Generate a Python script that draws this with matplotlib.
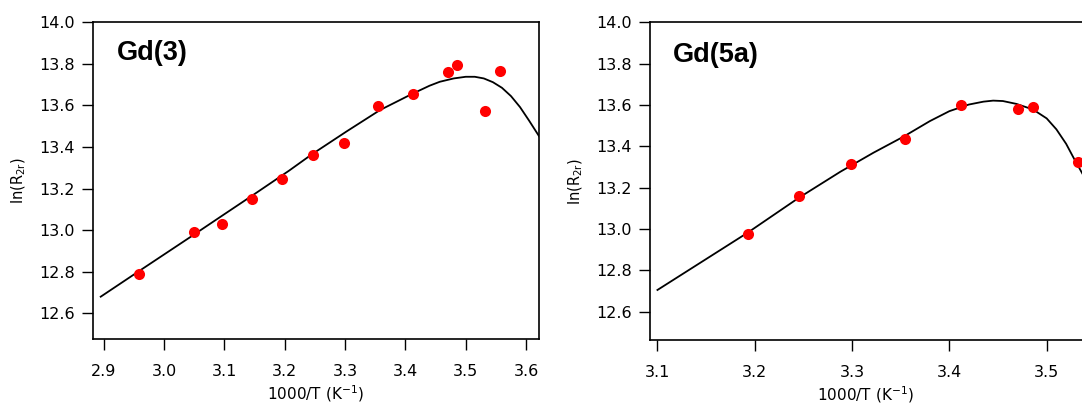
import matplotlib
matplotlib.use("Agg")
import matplotlib.pyplot as plt

# Gd(3) data points
x_gd3 = [2.958, 3.049, 3.096, 3.145, 3.195, 3.247, 3.299, 3.355, 3.412, 3.471, 3.486, 3.532, 3.557]
y_gd3 = [12.789, 12.993, 13.028, 13.150, 13.246, 13.362, 13.421, 13.599, 13.654, 13.759, 13.796, 13.573, 13.766]

# Gd(3) fitted curve
fit_x_gd3 = [2.895, 2.960, 3.042, 3.100, 3.150, 3.207, 3.245, 3.303, 3.358, 3.410,
             3.440, 3.457, 3.480, 3.500, 3.515, 3.530, 3.545, 3.560, 3.575, 3.590,
             3.605, 3.622]
fit_y_gd3 = [12.680, 12.806, 12.964, 13.077, 13.174, 13.286, 13.365, 13.476, 13.578, 13.654,
             13.695, 13.714, 13.730, 13.738, 13.738, 13.730, 13.712, 13.685, 13.645, 13.592,
             13.527, 13.450]

# Gd(5a) data points
x_gd5a = [3.193, 3.245, 3.299, 3.354, 3.412, 3.471, 3.486, 3.532]
y_gd5a = [12.976, 13.160, 13.316, 13.434, 13.601, 13.582, 13.590, 13.326]

# Gd(5a) fitted curve
fit_x_gd5a = [3.100, 3.193, 3.245, 3.288, 3.322, 3.353, 3.380, 3.400, 3.420, 3.435,
              3.445, 3.455, 3.469, 3.486, 3.500, 3.510, 3.520, 3.527, 3.540]
fit_y_gd5a = [12.705, 12.983, 13.150, 13.277, 13.369, 13.447, 13.522, 13.570, 13.602, 13.616,
              13.621, 13.619, 13.605, 13.578, 13.535, 13.482, 13.412, 13.350, 13.240]

plt.rcParams['font.family'] = ['DejaVu Sans']
plt.rcParams['mathtext.default'] = 'regular'
plt.rcParams['xtick.major.size'] = 8
plt.rcParams['ytick.major.size'] = 8
plt.rcParams['xtick.major.width'] = 1.0
plt.rcParams['ytick.major.width'] = 1.0
plt.rcParams['axes.linewidth'] = 1.2

fig = plt.figure(figsize=(10.82, 4.05), dpi=100)
ax1 = fig.add_axes([0.0856, 0.1622, 0.4126, 0.7827])
ax2 = fig.add_axes([0.6006, 0.1605, 0.3994, 0.7845])

panels = [
    (ax1, x_gd3, y_gd3, fit_x_gd3, fit_y_gd3, 'Gd(3)', (2.8816, 3.6215), (12.475, 14.0),
     [2.9, 3.0, 3.1, 3.2, 3.3, 3.4, 3.5, 3.6], 0.881),
    (ax2, x_gd5a, y_gd5a, fit_x_gd5a, fit_y_gd5a, 'Gd(5a)', (3.0922, 3.5363), (12.463, 14.0),
     [3.1, 3.2, 3.3, 3.4, 3.5], 0.876),
]

for ax, xs, ys, fx, fy, name, xl, yl, xt, ty in panels:
    ax.plot(fx, fy, color='black', linewidth=1.3, zorder=2)
    ax.plot(xs, ys, linestyle='none', marker='o', markersize=8, color='#ff0000',
            markeredgewidth=0, zorder=3)
    ax.set_xlim(*xl)
    ax.set_ylim(*yl)
    ax.set_xticks(xt)
    ax.set_xticklabels(['%.1f' % v for v in xt])
    yt = [12.6, 12.8, 13.0, 13.2, 13.4, 13.6, 13.8, 14.0]
    ax.set_yticks(yt)
    ax.set_yticklabels(['%.1f' % v for v in yt])
    ax.tick_params(axis='both', direction='out', labelsize=11.5, pad=5)
    ax.tick_params(axis='x', pad=10)
    ax.spines['right'].set_visible(ax is ax1)
    ax.set_xlabel(r'1000/T (K$^{-1}$)', fontsize=11, labelpad=3)
    ax.set_ylabel(r'ln(R$_{2r}$)', fontsize=10.5, labelpad=8)
    ax.text(0.054, ty, name, transform=ax.transAxes, fontsize=19.5, fontweight='bold',
            family='Liberation Sans', va='baseline', ha='left')

fig.savefig('out.png', dpi=100)
